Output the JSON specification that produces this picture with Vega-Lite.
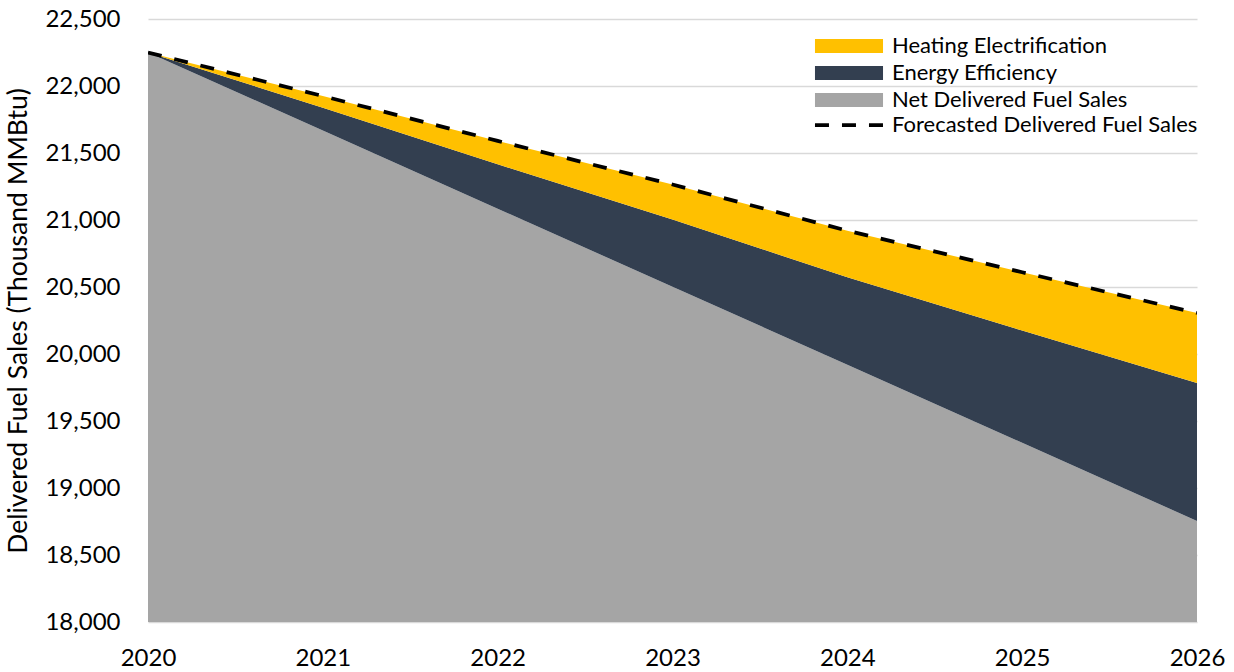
{
  "$schema": "https://vega.github.io/schema/vega-lite/v6.json",
  "width": 1049,
  "height": 603,
  "autosize": "none",
  "padding": {"left": 148, "top": 19, "right": 37, "bottom": 50},
  "config": {
    "view": {"stroke": null},
    "font": "Lato",
    "axis": {"labelFont": "Lato", "titleFont": "Lato", "labelColor": "#000000", "titleColor": "#000000"},
    "legend": {"labelFont": "Lato", "labelColor": "#000000"}
  },
  "data": {
    "values": [
      {"year": 2020, "forecast": 22250, "afterElectrification": 22250, "net": 22250},
      {"year": 2021, "forecast": 21925, "afterElectrification": 21838, "net": 21667},
      {"year": 2022, "forecast": 21590, "afterElectrification": 21416, "net": 21084},
      {"year": 2023, "forecast": 21265, "afterElectrification": 21004, "net": 20502},
      {"year": 2024, "forecast": 20920, "afterElectrification": 20572, "net": 19919},
      {"year": 2025, "forecast": 20610, "afterElectrification": 20175, "net": 19337},
      {"year": 2026, "forecast": 20306, "afterElectrification": 19784, "net": 18754}
    ]
  },
  "encoding": {
    "x": {
      "field": "year",
      "type": "quantitative",
      "scale": {"domain": [2020, 2026], "nice": false, "zero": false},
      "axis": {
        "title": null,
        "grid": false,
        "domain": false,
        "ticks": false,
        "values": [2020, 2021, 2022, 2023, 2024, 2025, 2026],
        "format": "d",
        "labelFontSize": 24,
        "labelPadding": 24,
        "labelFlush": false,
        "labelOverlap": false
      }
    }
  },
  "layer": [
    {
      "mark": {"type": "area", "clip": true},
      "encoding": {
        "y": {
          "field": "net",
          "type": "quantitative",
          "scale": {"domain": [18000, 22500], "nice": false, "zero": false},
          "axis": {
            "title": "Delivered Fuel Sales (Thousand MMBtu)",
            "titleFontSize": 26.5,
            "titleFontWeight": "normal",
            "titlePadding": 12,
            "values": [18000, 18500, 19000, 19500, 20000, 20500, 21000, 21500, 22000, 22500],
            "format": ",d",
            "labelFontSize": 24,
            "labelPadding": 28,
            "domain": false,
            "ticks": false,
            "grid": true,
            "gridColor": "#d9d9d9",
            "gridWidth": 1.5
          }
        },
        "y2": {"datum": 18000},
        "color": {
          "datum": "Net Delivered Fuel Sales",
          "type": "nominal",
          "scale": {
            "domain": ["Heating Electrification", "Energy Efficiency", "Net Delivered Fuel Sales"],
            "range": ["#FFC000", "#333F50", "#A5A5A5"]
          },
          "legend": {
            "title": null,
            "orient": "none",
            "legendX": 690,
            "legendY": 16,
            "symbolType": "M-4.86,-1H4.86V1H-4.86Z",
            "symbolSize": 196,
            "symbolStrokeWidth": 0,
            "symbolOpacity": 1,
            "labelFontSize": 22,
            "labelOffset": 32,
            "labelLimit": 500,
            "rowPadding": 5,
            "padding": 0
          }
        }
      }
    },
    {
      "mark": {"type": "area", "clip": true},
      "encoding": {
        "y": {"field": "afterElectrification", "type": "quantitative"},
        "y2": {"field": "net"},
        "color": {"datum": "Energy Efficiency", "type": "nominal"}
      }
    },
    {
      "mark": {"type": "area", "clip": true},
      "encoding": {
        "y": {"field": "forecast", "type": "quantitative"},
        "y2": {"field": "afterElectrification"},
        "color": {"datum": "Heating Electrification", "type": "nominal"}
      }
    },
    {
      "mark": {"type": "line", "strokeWidth": 3.75, "strokeDash": [14, 13], "clip": true},
      "encoding": {
        "y": {"field": "forecast", "type": "quantitative"},
        "stroke": {
          "datum": "Forecasted Delivered Fuel Sales",
          "type": "nominal",
          "scale": {"range": ["#000000"]},
          "legend": {
            "title": null,
            "orient": "none",
            "legendX": 690,
            "legendY": 95,
            "symbolType": "M-4.86,0H4.86",
            "symbolSize": 196,
            "symbolStrokeWidth": 3.75,
            "symbolDash": [14, 13],
            "labelFontSize": 22,
            "labelOffset": 32,
            "labelLimit": 500,
            "padding": 0
          }
        }
      }
    }
  ]
}
